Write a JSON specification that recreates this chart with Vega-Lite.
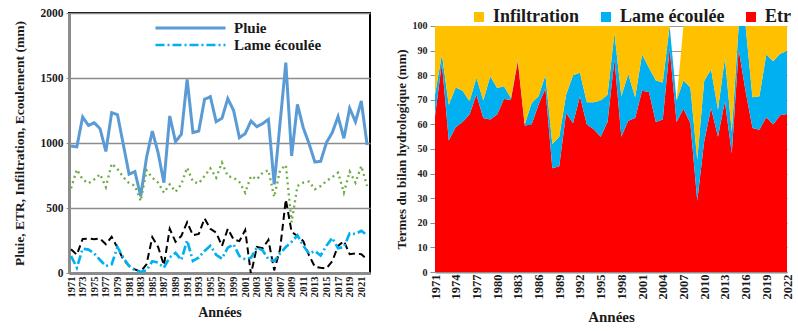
{
  "$schema": "https://vega.github.io/schema/vega-lite/v6.json",
  "padding": {"left": 10, "top": 6, "right": 4, "bottom": 4},
  "config": {
    "font": "Liberation Serif",
    "view": {"stroke": null},
    "concat": {"spacing": 24},
    "axis": {"labelColor": "#1a1a1a", "titleColor": "#1a1a1a", "labelFontWeight": "bold", "titleFontWeight": "bold"},
    "legend": {"labelColor": "#1a1a1a", "labelFontWeight": "bold"}
  },
  "resolve": {
    "scale": {"color": "independent", "strokeDash": "independent", "strokeWidth": "independent", "x": "independent", "y": "independent"},
    "legend": {"color": "independent", "strokeDash": "independent"}
  },
  "datasets": {
    "gauche": [
      {"annee": 1971, "Pluie": 977, "ETR": 651, "Infiltration": 182, "Lame écoulée": 131},
      {"annee": 1972, "Pluie": 970, "ETR": 795, "Infiltration": 140, "Lame écoulée": 41},
      {"annee": 1973, "Pluie": 1200, "ETR": 720, "Infiltration": 262, "Lame écoulée": 187},
      {"annee": 1974, "Pluie": 1135, "ETR": 690, "Infiltration": 265, "Lame écoulée": 180},
      {"annee": 1975, "Pluie": 1156, "ETR": 720, "Infiltration": 260, "Lame écoulée": 150},
      {"annee": 1976, "Pluie": 1110, "ETR": 760, "Infiltration": 265, "Lame écoulée": 100},
      {"annee": 1977, "Pluie": 935, "ETR": 660, "Infiltration": 221, "Lame écoulée": 54},
      {"annee": 1978, "Pluie": 1233, "ETR": 841, "Infiltration": 278, "Lame écoulée": 67},
      {"annee": 1979, "Pluie": 1218, "ETR": 800, "Infiltration": 195, "Lame écoulée": 200},
      {"annee": 1980, "Pluie": 990, "ETR": 738, "Infiltration": 105, "Lame écoulée": 118},
      {"annee": 1981, "Pluie": 760, "ETR": 690, "Infiltration": 54, "Lame écoulée": 54},
      {"annee": 1982, "Pluie": 780, "ETR": 672, "Infiltration": 28, "Lame écoulée": 21},
      {"annee": 1983, "Pluie": 592, "ETR": 554, "Infiltration": 10, "Lame écoulée": 10},
      {"annee": 1984, "Pluie": 887, "ETR": 790, "Infiltration": 67, "Lame écoulée": 20},
      {"annee": 1985, "Pluie": 1092, "ETR": 733, "Infiltration": 275, "Lame écoulée": 90},
      {"annee": 1986, "Pluie": 925, "ETR": 695, "Infiltration": 200, "Lame écoulée": 80},
      {"annee": 1987, "Pluie": 695, "ETR": 618, "Infiltration": 60, "Lame écoulée": 41},
      {"annee": 1988, "Pluie": 1208, "ETR": 682, "Infiltration": 340, "Lame écoulée": 120},
      {"annee": 1989, "Pluie": 1010, "ETR": 625, "Infiltration": 240, "Lame écoulée": 155},
      {"annee": 1990, "Pluie": 1067, "ETR": 683, "Infiltration": 285, "Lame écoulée": 100},
      {"annee": 1991, "Pluie": 1490, "ETR": 810, "Infiltration": 390, "Lame écoulée": 250},
      {"annee": 1992, "Pluie": 1080, "ETR": 703, "Infiltration": 290, "Lame écoulée": 92},
      {"annee": 1993, "Pluie": 1092, "ETR": 690, "Infiltration": 300, "Lame écoulée": 120},
      {"annee": 1994, "Pluie": 1336, "ETR": 746, "Infiltration": 420, "Lame écoulée": 170},
      {"annee": 1995, "Pluie": 1356, "ETR": 805, "Infiltration": 340, "Lame écoulée": 210},
      {"annee": 1996, "Pluie": 1164, "ETR": 733, "Infiltration": 310, "Lame écoulée": 140},
      {"annee": 1997, "Pluie": 1190, "ETR": 849, "Infiltration": 208, "Lame écoulée": 110},
      {"annee": 1998, "Pluie": 1341, "ETR": 746, "Infiltration": 340, "Lame écoulée": 195},
      {"annee": 1999, "Pluie": 1251, "ETR": 733, "Infiltration": 259, "Lame écoulée": 220},
      {"annee": 2000, "Pluie": 1041, "ETR": 700, "Infiltration": 245, "Lame écoulée": 130},
      {"annee": 2001, "Pluie": 1072, "ETR": 618, "Infiltration": 330, "Lame écoulée": 105},
      {"annee": 2002, "Pluie": 1169, "ETR": 746, "Infiltration": -10, "Lame écoulée": 118},
      {"annee": 2003, "Pluie": 1126, "ETR": 720, "Infiltration": 200, "Lame écoulée": 195},
      {"annee": 2004, "Pluie": 1149, "ETR": 772, "Infiltration": 190, "Lame écoulée": 175},
      {"annee": 2005, "Pluie": 1182, "ETR": 790, "Infiltration": 255, "Lame écoulée": 105},
      {"annee": 2006, "Pluie": 682, "ETR": 585, "Infiltration": 20, "Lame écoulée": 92},
      {"annee": 2007, "Pluie": 1150, "ETR": 790, "Infiltration": 180, "Lame écoulée": 150},
      {"annee": 2008, "Pluie": 1618, "ETR": 830, "Infiltration": 565, "Lame écoulée": 200},
      {"annee": 2009, "Pluie": 900, "ETR": 390, "Infiltration": 315, "Lame écoulée": 240},
      {"annee": 2010, "Pluie": 1297, "ETR": 669, "Infiltration": 285, "Lame écoulée": 290},
      {"annee": 2011, "Pluie": 1118, "ETR": 695, "Infiltration": 246, "Lame écoulée": 210},
      {"annee": 2012, "Pluie": 995, "ETR": 704, "Infiltration": 135, "Lame écoulée": 150},
      {"annee": 2013, "Pluie": 854, "ETR": 644, "Infiltration": 48, "Lame écoulée": 169},
      {"annee": 2014, "Pluie": 859, "ETR": 669, "Infiltration": 40, "Lame écoulée": 135},
      {"annee": 2015, "Pluie": 1003, "ETR": 708, "Infiltration": 36, "Lame écoulée": 210},
      {"annee": 2016, "Pluie": 1080, "ETR": 738, "Infiltration": 90, "Lame écoulée": 270},
      {"annee": 2017, "Pluie": 1203, "ETR": 772, "Infiltration": 208, "Lame écoulée": 190},
      {"annee": 2018, "Pluie": 1036, "ETR": 618, "Infiltration": 246, "Lame écoulée": 200},
      {"annee": 2019, "Pluie": 1267, "ETR": 780, "Infiltration": 144, "Lame écoulée": 305},
      {"annee": 2020, "Pluie": 1164, "ETR": 695, "Infiltration": 150, "Lame écoulée": 300},
      {"annee": 2021, "Pluie": 1323, "ETR": 823, "Infiltration": 145, "Lame écoulée": 325},
      {"annee": 2022, "Pluie": 985, "ETR": 669, "Infiltration": 105, "Lame écoulée": 290}
    ],
    "droite": [
      {"annee": 1971, "Etr": 63.3, "Lame écoulée": 8.7, "Infiltration": 28.0},
      {"annee": 1972, "Etr": 85.0, "Lame écoulée": 3.4, "Infiltration": 11.6},
      {"annee": 1973, "Etr": 53.5, "Lame écoulée": 14.5, "Infiltration": 32.0},
      {"annee": 1974, "Etr": 58.8, "Lame écoulée": 16.2, "Infiltration": 25.0},
      {"annee": 1975, "Etr": 61.0, "Lame écoulée": 12.7, "Infiltration": 26.3},
      {"annee": 1976, "Etr": 64.0, "Lame écoulée": 5.4, "Infiltration": 30.6},
      {"annee": 1977, "Etr": 72.0, "Lame écoulée": 7.0, "Infiltration": 21.0},
      {"annee": 1978, "Etr": 62.6, "Lame écoulée": 7.1, "Infiltration": 30.3},
      {"annee": 1979, "Etr": 62.0, "Lame écoulée": 17.6, "Infiltration": 20.4},
      {"annee": 1980, "Etr": 64.0, "Lame écoulée": 10.8, "Infiltration": 25.2},
      {"annee": 1981, "Etr": 70.3, "Lame écoulée": 5.2, "Infiltration": 24.5},
      {"annee": 1982, "Etr": 70.0, "Lame écoulée": 0.7, "Infiltration": 29.3},
      {"annee": 1983, "Etr": 85.7, "Lame écoulée": 0.7, "Infiltration": 13.6},
      {"annee": 1984, "Etr": 59.6, "Lame écoulée": 0.4, "Infiltration": 40.0},
      {"annee": 1985, "Etr": 60.0, "Lame écoulée": 8.7, "Infiltration": 31.3},
      {"annee": 1986, "Etr": 68.0, "Lame écoulée": 3.4, "Infiltration": 28.6},
      {"annee": 1987, "Etr": 74.6, "Lame écoulée": 5.4, "Infiltration": 20.0},
      {"annee": 1988, "Etr": 42.2, "Lame écoulée": 9.8, "Infiltration": 48.0},
      {"annee": 1989, "Etr": 43.0, "Lame écoulée": 12.0, "Infiltration": 45.0},
      {"annee": 1990, "Etr": 64.6, "Lame écoulée": 7.4, "Infiltration": 28.0},
      {"annee": 1991, "Etr": 60.5, "Lame écoulée": 19.5, "Infiltration": 20.0},
      {"annee": 1992, "Etr": 71.4, "Lame écoulée": 9.6, "Infiltration": 19.0},
      {"annee": 1993, "Etr": 60.0, "Lame écoulée": 9.0, "Infiltration": 31.0},
      {"annee": 1994, "Etr": 58.0, "Lame écoulée": 11.0, "Infiltration": 31.0},
      {"annee": 1995, "Etr": 55.0, "Lame écoulée": 14.7, "Infiltration": 30.3},
      {"annee": 1996, "Etr": 61.0, "Lame écoulée": 11.0, "Infiltration": 28.0},
      {"annee": 1997, "Etr": 86.4, "Lame écoulée": 10.6, "Infiltration": 3.0},
      {"annee": 1998, "Etr": 55.0, "Lame écoulée": 16.4, "Infiltration": 28.6},
      {"annee": 1999, "Etr": 61.5, "Lame écoulée": 19.0, "Infiltration": 19.5},
      {"annee": 2000, "Etr": 62.6, "Lame écoulée": 8.4, "Infiltration": 29.0},
      {"annee": 2001, "Etr": 73.7, "Lame écoulée": 14.7, "Infiltration": 11.6},
      {"annee": 2002, "Etr": 73.2, "Lame écoulée": 9.8, "Infiltration": 17.0},
      {"annee": 2003, "Etr": 61.0, "Lame écoulée": 16.8, "Infiltration": 22.2},
      {"annee": 2004, "Etr": 62.0, "Lame écoulée": 15.0, "Infiltration": 23.0},
      {"annee": 2005, "Etr": 91.0, "Lame écoulée": 9.0, "Infiltration": 0.0},
      {"annee": 2006, "Etr": 61.0, "Lame écoulée": 8.7, "Infiltration": 0.0},
      {"annee": 2007, "Etr": 66.4, "Lame écoulée": 11.4, "Infiltration": 22.2},
      {"annee": 2008, "Etr": 60.5, "Lame écoulée": 14.5, "Infiltration": 25.0},
      {"annee": 2009, "Etr": 29.0, "Lame écoulée": 16.6, "Infiltration": 54.4},
      {"annee": 2010, "Etr": 53.0, "Lame écoulée": 24.6, "Infiltration": 22.4},
      {"annee": 2011, "Etr": 66.7, "Lame écoulée": 15.6, "Infiltration": 17.7},
      {"annee": 2012, "Etr": 55.0, "Lame écoulée": 11.0, "Infiltration": 34.0},
      {"annee": 2013, "Etr": 69.4, "Lame écoulée": 17.6, "Infiltration": 13.0},
      {"annee": 2014, "Etr": 48.3, "Lame écoulée": 8.7, "Infiltration": 43.0},
      {"annee": 2015, "Etr": 90.5, "Lame écoulée": 9.5, "Infiltration": 0.0},
      {"annee": 2016, "Etr": 73.5, "Lame écoulée": 26.5, "Infiltration": 0.0},
      {"annee": 2017, "Etr": 58.5, "Lame écoulée": 12.5, "Infiltration": 29.0},
      {"annee": 2018, "Etr": 57.8, "Lame écoulée": 13.6, "Infiltration": 28.6},
      {"annee": 2019, "Etr": 62.9, "Lame écoulée": 25.5, "Infiltration": 11.6},
      {"annee": 2020, "Etr": 60.0, "Lame écoulée": 25.7, "Infiltration": 14.3},
      {"annee": 2021, "Etr": 63.7, "Lame écoulée": 25.0, "Infiltration": 11.3},
      {"annee": 2022, "Etr": 64.2, "Lame écoulée": 25.6, "Infiltration": 10.2}
    ]
  },
  "hconcat": [
    {
      "width": 301,
      "height": 260,
      "view": {"stroke": "#000000", "strokeWidth": 2},
      "data": {"name": "gauche"},
      "transform": [{"fold": ["Pluie", "ETR", "Infiltration", "Lame écoulée"], "as": ["serie", "valeur"]}],
      "mark": {"type": "line", "clip": true, "strokeCap": "butt"},
      "encoding": {
        "x": {
          "field": "annee", "type": "quantitative",
          "scale": {"domain": [1970.65, 2022.5], "nice": false, "zero": false},
          "axis": {
            "title": "Années", "titleFontSize": 14, "titlePadding": 8,
            "values": [1971, 1973, 1975, 1977, 1979, 1981, 1983, 1985, 1987, 1989, 1991, 1993, 1995, 1997, 1999, 2001, 2003, 2005, 2007, 2009, 2011, 2013, 2015, 2017, 2019, 2021],
            "format": "d", "labelAngle": 270, "labelFontSize": 10.5, "labelPadding": 3,
            "ticks": false, "grid": false, "domainColor": "#8c8c8c", "domainWidth": 3, "labelFlush": false, "labelOverlap": false
          }
        },
        "y": {
          "field": "valeur", "type": "quantitative",
          "scale": {"domain": [0, 2000], "nice": false},
          "axis": {
            "title": "Pluie, ETR, Infiltration, Ecoulement (mm)", "titleFontSize": 13.5, "titlePadding": 14,
            "values": [0, 500, 1000, 1500, 2000], "format": "d", "labelFontSize": 11.5, "labelPadding": 3,
            "tickSize": 3, "tickColor": "#8c8c8c", "grid": true, "gridColor": "#8c8c8c", "gridWidth": 1.5,
            "domainColor": "#8c8c8c", "domainWidth": 3
          }
        },
        "color": {
          "field": "serie", "type": "nominal",
          "scale": {"domain": ["Pluie", "Lame écoulée", "ETR", "Infiltration"], "range": ["#5b9bd5", "#00b0f0", "#70ad47", "#000000"]},
          "legend": {
            "values": ["Pluie", "Lame écoulée"], "title": null, "orient": "none", "direction": "vertical", "legendX": 85, "legendY": 7,
            "symbolType": "stroke", "symbolSize": 4900, "symbolStrokeWidth": 3, "clipHeight": 16, "rowPadding": 1,
            "labelFontSize": 15, "labelOffset": 7, "padding": 0
          }
        },
        "strokeDash": {
          "field": "serie", "type": "nominal",
          "scale": {"domain": ["Pluie", "Lame écoulée", "ETR", "Infiltration"], "range": [[1, 0], [9, 3, 2, 3], [2, 3.5], [7, 4]]},
          "legend": {
            "values": ["Pluie", "Lame écoulée"], "title": null, "orient": "none", "direction": "vertical", "legendX": 85, "legendY": 7,
            "symbolType": "stroke", "symbolSize": 4900, "symbolStrokeWidth": 3, "clipHeight": 16, "rowPadding": 1,
            "labelFontSize": 15, "labelOffset": 7, "padding": 0
          }
        },
        "strokeWidth": {
          "field": "serie", "type": "nominal",
          "scale": {"domain": ["Pluie", "Lame écoulée", "ETR", "Infiltration"], "range": [3, 2, 3, 2.5]},
          "legend": null
        }
      }
    },
    {
      "width": 352,
      "height": 259,
      "data": {"name": "droite"},
      "transform": [
        {"fold": ["Etr", "Lame écoulée", "Infiltration"], "as": ["terme", "pourcent"]},
        {"stack": "pourcent", "groupby": ["annee"], "as": ["bas", "haut"]}
      ],
      "mark": {"type": "area", "interpolate": "linear"},
      "encoding": {
        "x": {
          "field": "annee", "type": "quantitative",
          "scale": {"domain": [1971, 2022], "nice": false, "zero": false},
          "axis": {
            "title": "Années", "titleFontSize": 15, "titlePadding": 10,
            "values": [1971, 1974, 1977, 1980, 1983, 1986, 1989, 1992, 1995, 1998, 2001, 2004, 2007, 2010, 2013, 2016, 2019, 2022],
            "format": "d", "labelAngle": 270, "labelFontSize": 12.5, "labelPadding": 2,
            "ticks": false, "grid": false, "domainColor": "#8c8c8c", "domainWidth": 2, "labelFlush": false, "labelOverlap": false
          }
        },
        "y": {
          "field": "haut", "type": "quantitative",
          "scale": {"domain": [0, 105.28], "nice": false},
          "axis": {
            "title": "Termes du bilan hydrologique (mm)", "titleFontSize": 13, "titlePadding": 4, "titleY": 136,
            "values": [0, 10, 20, 30, 40, 50, 60, 70, 80, 90, 100], "labelFontSize": 10, "labelPadding": 3,
            "tickSize": 5, "tickColor": "#8c8c8c", "grid": true, "gridColor": "#9a9a9a", "gridWidth": 1,
            "domain": false
          }
        },
        "y2": {"field": "bas"},
        "color": {
          "field": "terme", "type": "nominal",
          "scale": {"domain": ["Etr", "Lame écoulée", "Infiltration"], "range": ["#ff0000", "#00b0f0", "#ffc000"]},
          "legend": {
            "values": ["Infiltration", "Lame écoulée", "Etr"], "title": null, "orient": "none", "direction": "horizontal",
            "legendX": 35, "legendY": -5, "symbolType": "square", "symbolSize": 100, "symbolOpacity": 1,
            "symbolStrokeWidth": 0, "labelFontSize": 18, "labelOffset": 5, "columnPadding": 17, "padding": 0
          }
        }
      }
    }
  ]
}
